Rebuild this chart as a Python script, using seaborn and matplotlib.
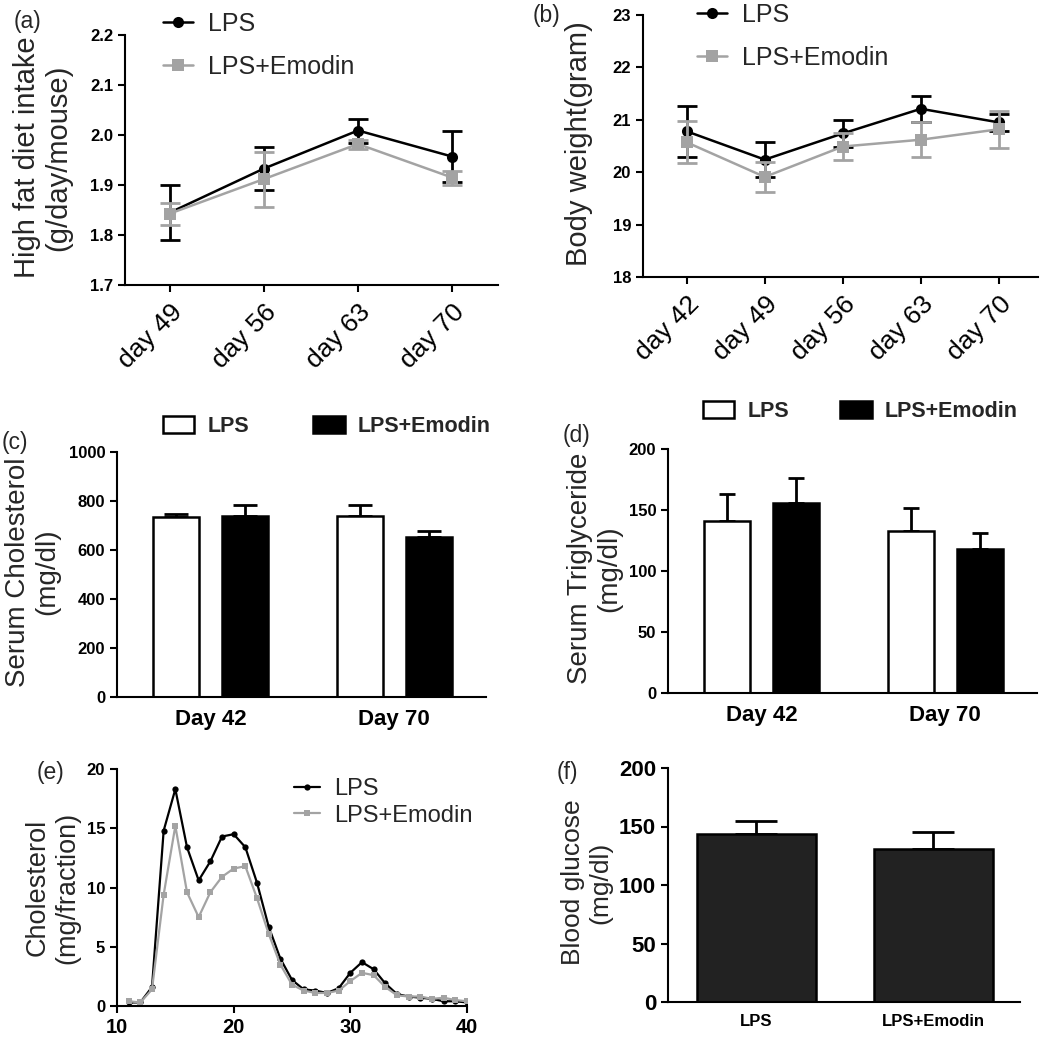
import numpy as np
import pandas as pd
import matplotlib
matplotlib.use("Agg")
import matplotlib.pyplot as plt
import seaborn as sns
from matplotlib.patches import Patch

# ---------------- data ----------------
groups = ["LPS", "LPS+Emodin"]

# (a) high fat diet intake
intake_days = ["day 49", "day 56", "day 63", "day 70"]
intake_lps = [1.845, 1.933, 2.009, 1.957]
intake_lps_err = [0.055, 0.043, 0.024, 0.050]
intake_emo = [1.843, 1.912, 1.982, 1.915]
intake_emo_err = [0.022, 0.055, 0.009, 0.014]

# (b) body weight
weight_days = ["day 42", "day 49", "day 56", "day 63", "day 70"]
weight_lps = [20.78, 20.24, 20.74, 21.21, 20.95]
weight_lps_err = [0.49, 0.33, 0.26, 0.25, 0.16]
weight_emo = [20.57, 19.91, 20.49, 20.62, 20.82]
weight_emo_err = [0.40, 0.28, 0.25, 0.33, 0.35]

# (c) serum cholesterol
serum_days = ["Day 42", "Day 70"]
chol_lps = [735, 740]
chol_lps_err = [10, 45]
chol_emo = [740, 655]
chol_emo_err = [45, 24]

# (d) serum triglyceride
tg_lps = [141, 133]
tg_lps_err = [22, 19]
tg_emo = [156, 118]
tg_emo_err = [20, 13]

# (e) cholesterol per fraction
fractions = list(range(11, 41))
frac_lps = [0.3, 0.3, 1.6, 14.8, 18.3, 13.4, 10.6, 12.2, 14.3, 14.5,
            13.4, 10.4, 6.7, 4.0, 2.2, 1.4, 1.3, 1.1, 1.5, 2.8,
            3.7, 3.1, 1.9, 1.0, 0.8, 0.7, 0.6, 0.4, 0.4, 0.3]
frac_emo = [0.4, 0.3, 1.4, 9.4, 15.2, 9.6, 7.5, 9.6, 10.9, 11.6,
            11.8, 9.1, 6.1, 3.5, 1.8, 1.3, 1.1, 1.1, 1.3, 2.1,
            2.8, 2.6, 1.6, 0.9, 0.8, 0.8, 0.6, 0.7, 0.5, 0.4]

# (f) blood glucose
glucose_groups = ["LPS", "LPS+Emodin"]
glucose = [144, 131]
glucose_err = [11, 14]

# ---------------- style ----------------
sns.set_style("ticks")
plt.rcParams["font.family"] = ["Liberation Sans", "DejaVu Sans"]
plt.rcParams["axes.linewidth"] = 1.5
plt.rcParams["xtick.major.width"] = 1.5
plt.rcParams["ytick.major.width"] = 1.5
plt.rcParams["xtick.major.size"] = 5
plt.rcParams["ytick.major.size"] = 5
plt.rcParams["axes.edgecolor"] = "black"
plt.rcParams["xtick.color"] = "black"
plt.rcParams["ytick.color"] = "black"

W, H = 1050, 1040
fig = plt.figure(figsize=(W / 100, H / 100), dpi=100)


def rect(l, t, r, b):
    return [l / W, 1 - b / H, (r - l) / W, (b - t) / H]


GRAY = "#a3a3a3"
line_pal = {"LPS": "black", "LPS+Emodin": GRAY}
bar_pal = {"LPS": "white", "LPS+Emodin": "black"}


def style_yticks(ax, ticks, fmt, size=12):
    ax.set_yticks(ticks)
    ax.set_yticklabels([fmt.format(t) for t in ticks], fontsize=size,
                       fontweight="bold")


def line_panel(ax, days, lps, lps_err, emo, emo_err, yticks, fmt, ylabel,
               ylab_x, xlim, leg_xy):
    n = len(days)
    df = pd.DataFrame({"day": days * 2, "value": lps + emo,
                       "group": [groups[0]] * n + [groups[1]] * n})
    sns.lineplot(data=df, x="day", y="value", hue="group", style="group",
                 markers={"LPS": "o", "LPS+Emodin": "s"}, dashes=False,
                 palette=line_pal, linewidth=1.8, markersize=8,
                 markeredgewidth=0, sort=False, ax=ax)
    ax.errorbar(days, lps, yerr=lps_err, fmt="none", ecolor="black",
                elinewidth=2, capsize=7, capthick=2, zorder=1.9)
    ax.errorbar(days, emo, yerr=emo_err, fmt="none", ecolor=GRAY,
                elinewidth=2, capsize=7, capthick=2, zorder=2.5)
    ax.set_xlim(*xlim)
    ax.set_ylim(yticks[0], yticks[-1])
    style_yticks(ax, yticks, fmt)
    ax.set_xticks(range(n))
    ax.set_xticklabels(days, rotation=45, ha="right", rotation_mode="anchor",
                       fontsize=19)
    ax.tick_params(axis="x", pad=6)
    ax.set_xlabel("")
    ax.set_ylabel(ylabel, fontsize=21, linespacing=1.15)
    ax.yaxis.set_label_coords(ylab_x, 0.51)
    sns.despine(ax=ax)
    sns.move_legend(ax, "upper left", bbox_to_anchor=leg_xy,
                    bbox_transform=fig.transFigure, frameon=False, title=None,
                    fontsize=18, handlelength=1.2, handletextpad=0.6,
                    labelspacing=0.75, borderpad=0, borderaxespad=0)


def add_up_errors(ax, bar_containers, err_lists, capsize):
    for cont, errs in zip(bar_containers, err_lists):
        xs = [p.get_x() + p.get_width() / 2 for p in cont]
        ys = [p.get_height() for p in cont]
        ax.errorbar(xs, ys, yerr=[np.zeros(len(errs)), errs], fmt="none",
                    ecolor="black", elinewidth=2, capsize=capsize, capthick=2,
                    zorder=0.9)


def bar_panel(ax, lps, lps_err, emo, emo_err, capsize, yticks, ylabel,
              ylab_x, leg_xy, colspace):
    n = len(serum_days)
    df = pd.DataFrame({"day": serum_days * 2, "value": lps + emo,
                       "group": [groups[0]] * n + [groups[1]] * n})
    sns.barplot(data=df, x="day", y="value", hue="group", palette=bar_pal,
                edgecolor="black", linewidth=1.8, width=0.75, gap=0.33,
                errorbar=None, legend=False, ax=ax)
    add_up_errors(ax, list(ax.containers)[:2], [lps_err, emo_err], capsize)
    ax.set_xlim(-0.51, 1.5)
    ax.set_ylim(yticks[0], yticks[-1])
    style_yticks(ax, yticks, "{:d}")
    ax.set_xticks(range(n))
    ax.set_xticklabels(serum_days, fontsize=16, fontweight="bold")
    ax.tick_params(axis="x", length=0, pad=9)
    ax.set_xlabel("")
    ax.set_ylabel(ylabel, fontsize=20, linespacing=1.15)
    ax.yaxis.set_label_coords(ylab_x, 0.51)
    sns.despine(ax=ax)
    handles = [Patch(facecolor=bar_pal[g], edgecolor="black", linewidth=1.8)
               for g in groups]
    ax.legend(handles, groups, loc="upper left", bbox_to_anchor=leg_xy,
              bbox_transform=fig.transFigure, frameon=False, ncol=2,
              prop={"size": 15.5, "weight": "bold"}, handlelength=1.45,
              handleheight=0.85, handletextpad=0.6, columnspacing=colspace,
              borderpad=0, borderaxespad=0)


# (a)
ax_a = fig.add_axes(rect(125, 35, 498, 285))
line_panel(ax_a, intake_days, intake_lps, intake_lps_err, intake_emo,
           intake_emo_err, [1.7, 1.8, 1.9, 2.0, 2.1, 2.2], "{:.1f}",
           "High fat diet intake\n(g/day/mouse)", -0.142, (-0.48, 3.49),
           (163 / W, 1 - 12 / H))

# (b)
ax_b = fig.add_axes(rect(643, 15, 1038, 277))
line_panel(ax_b, weight_days, weight_lps, weight_lps_err, weight_emo,
           weight_emo_err, [18, 19, 20, 21, 22, 23], "{:d}",
           "Body weight(gram)", -0.127, (-0.56, 4.5),
           (697 / W, 1 - 3 / H))

# (c)
ax_c = fig.add_axes(rect(117, 452, 486, 697))
bar_panel(ax_c, chol_lps, chol_lps_err, chol_emo, chol_emo_err, 8.5,
          [0, 200, 400, 600, 800, 1000], "Serum Cholesterol\n(mg/dl)",
          -0.154, (163 / W, 1 - 416 / H), 3.0)

# (d)
ax_d = fig.add_axes(rect(668, 449, 1037, 693))
bar_panel(ax_d, tg_lps, tg_lps_err, tg_emo, tg_emo_err, 5.5,
          [0, 50, 100, 150, 200], "Serum Triglyceride\n(mg/dl)",
          -0.125, (703 / W, 1 - 401 / H), 2.4)

# (e)
ax_e = fig.add_axes(rect(117, 769, 467, 1006))
df_e = pd.DataFrame({"fraction": fractions * 2, "value": frac_lps + frac_emo,
                     "group": [groups[0]] * len(fractions)
                     + [groups[1]] * len(fractions)})
sns.lineplot(data=df_e, x="fraction", y="value", hue="group", style="group",
             markers={"LPS": "o", "LPS+Emodin": "s"}, dashes=False,
             palette=line_pal, linewidth=1.6, markersize=4.5,
             markeredgewidth=0, ax=ax_e)
ax_e.set_xlim(10, 40)
ax_e.set_ylim(0, 20)
ax_e.set_xticks([10, 20, 30, 40])
ax_e.set_xticklabels(["10", "20", "30", "40"], fontsize=14.5, fontweight="bold")
style_yticks(ax_e, [0, 5, 10, 15, 20], "{:d}")
ax_e.set_xlabel("")
ax_e.set_ylabel("Cholesterol\n(mg/fraction)", fontsize=19.5, linespacing=1.15)
ax_e.yaxis.set_label_coords(-0.106, 0.50)
sns.despine(ax=ax_e)
sns.move_legend(ax_e, "upper left", bbox_to_anchor=(294 / W, 1 - 778 / H),
                bbox_transform=fig.transFigure, frameon=False, title=None,
                fontsize=17, handlelength=1.1, handletextpad=0.6,
                labelspacing=0.2, borderpad=0, borderaxespad=0)

# (f)
ax_f = fig.add_axes(rect(668, 768, 1020, 1002))
sns.barplot(x=glucose_groups, y=glucose, color="#222222", edgecolor="black",
            linewidth=1.8, width=0.67, errorbar=None, ax=ax_f)
add_up_errors(ax_f, list(ax_f.containers)[:1], [glucose_err], 15)
ax_f.set_xlim(-0.5, 1.49)
ax_f.set_ylim(0, 200)
style_yticks(ax_f, [0, 50, 100, 150, 200], "{:d}", size=16)
ax_f.set_xticks([0, 1])
ax_f.set_xticklabels(glucose_groups, fontsize=12, fontweight="bold")
ax_f.tick_params(axis="x", length=0, pad=9)
ax_f.set_ylabel("Blood glucose\n(mg/dl)", fontsize=19, linespacing=1.15)
ax_f.yaxis.set_label_coords(-0.159, 0.51)
sns.despine(ax=ax_f)

# panel letters
for lab, x, y in [("(a)", 14, 10), ("(b)", 533, 4), ("(c)", 2, 431),
                  ("(d)", 563, 424), ("(e)", 37, 761), ("(f)", 557, 761)]:
    fig.text(x / W, 1 - y / H, lab, fontsize=16.5, va="top", ha="left")

fig.savefig("out.png", dpi=100)
